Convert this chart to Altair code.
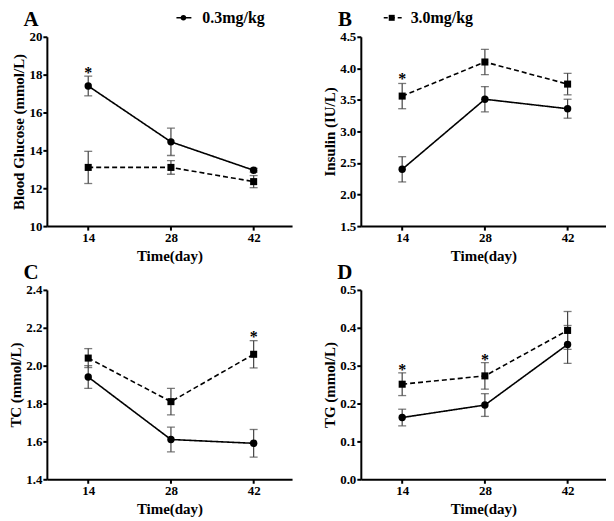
import altair as alt
import pandas as pd

days = [14, 28, 42]
doses = ["0.3mg/kg", "3.0mg/kg"]

# Panel A: Blood glucose (mmol/L)
glu_low = [17.4, 14.45, 12.95]
glu_low_sem = [0.52, 0.72, 0.10]
glu_high = [13.1, 13.1, 12.35]
glu_high_sem = [0.85, 0.36, 0.32]
glu_star_days = [14]
glu_star_y = [18.25]

# Panel B: Insulin (IU/L)
ins_low = [2.40, 3.51, 3.36]
ins_low_sem = [0.20, 0.20, 0.15]
ins_high = [3.56, 4.10, 3.75]
ins_high_sem = [0.20, 0.20, 0.17]
ins_star_days = [14]
ins_star_y = [3.87]

# Panel C: TC (mmol/L)
tc_low = [1.94, 1.61, 1.59]
tc_low_sem = [0.06, 0.065, 0.073]
tc_high = [2.04, 1.81, 2.06]
tc_high_sem = [0.05, 0.07, 0.072]
tc_star_days = [42]
tc_star_y = [2.165]

# Panel D: TG (mmol/L)
tg_low = [0.163, 0.196, 0.356]
tg_low_sem = [0.022, 0.03, 0.05]
tg_high = [0.251, 0.273, 0.393]
tg_high_sem = [0.03, 0.035, 0.05]
tg_star_days = [14, 28]
tg_star_y = [0.297, 0.322]

FONT = "Liberation Serif"
W, H = 246, 190


def panel(letter, ytitle, dom, ticks, fmt, lows, low_sem, highs, high_sem,
          star_days, star_y, legend_dose=None):
    rows = []
    for dose, vals, sems in ((doses[0], lows, low_sem), (doses[1], highs, high_sem)):
        for d, v, s in zip(days, vals, sems):
            rows.append(dict(day=d, dose=dose, mean=v, lo=v - s, hi=v + s))
    df = pd.DataFrame(rows)
    xs = alt.Scale(domain=[7, 48.5], nice=False, zero=False)
    ys = alt.Scale(domain=dom, nice=False, zero=False)
    x_axis = alt.Axis(values=days, title="Time(day)", format="d", labelOverlap=False)
    y_axis = alt.Axis(values=ticks, format=fmt, title=ytitle, labelOverlap=False)
    x = alt.X("day:Q", scale=xs, axis=x_axis)

    def Y(field):
        return alt.Y(field, scale=ys, axis=y_axis)

    base = alt.Chart(df)
    err = base.mark_rule(color="#444444", strokeWidth=1.2).encode(
        x=x, y=Y("lo:Q"), y2="hi:Q")
    cap_lo = base.mark_tick(orient="horizontal", size=8, thickness=1.3,
                            color="#444444").encode(x=x, y=Y("lo:Q"))
    cap_hi = base.mark_tick(orient="horizontal", size=8, thickness=1.3,
                            color="#444444").encode(x=x, y=Y("hi:Q"))
    line = base.mark_line(color="black", strokeWidth=1.6).encode(
        x=x, y=Y("mean:Q"),
        strokeDash=alt.StrokeDash("dose:N", scale=alt.Scale(domain=doses, range=[[1, 0], [5, 3]]),
                                  legend=None),
        detail="dose:N")
    pts = base.mark_point(filled=True, color="black", opacity=1).encode(
        x=x, y=Y("mean:Q"),
        shape=alt.Shape("dose:N", scale=alt.Scale(domain=doses, range=["circle", "square"]),
                        legend=None),
        size=alt.Size("dose:N", scale=alt.Scale(domain=doses, range=[55, 50]), legend=None))
    sdf = pd.DataFrame(dict(day=star_days, y=star_y))
    stars = alt.Chart(sdf).mark_text(text="*", font=FONT, fontSize=16, fontWeight="bold",
                                     baseline="middle", fill="black", color="black",
                                     dy=3).encode(
        x=x, y=Y("y:Q"))
    lab = alt.Chart(pd.DataFrame(dict(t=[letter]))).mark_text(
        font=FONT, fontSize=21, fontWeight="bold", fill="black", align="center",
        baseline="middle").encode(text="t:N", x=alt.value(-16), y=alt.value(-17))
    layers = [err, cap_lo, cap_hi, line, pts, stars, lab]
    if legend_dose is not None:
        ldf = pd.DataFrame(dict(dose=[legend_dose]))
        if legend_dose == doses[0]:
            lx1, lx2, sx, tx, dash, shp, sz = 130, 145, 137, 156, [1, 0], "circle", 30
        else:
            lx1, lx2, sx, tx, dash, shp, sz = 23, 42, 31, 50, [4, 3], "square", 36
        lg = alt.Chart(ldf)
        layers += [
            lg.mark_rule(color="black", strokeWidth=1.6, strokeDash=dash).encode(
                x=alt.value(lx1), x2=alt.value(lx2), y=alt.value(-19)),
            lg.mark_point(filled=True, color="black", opacity=1, shape=shp, size=sz).encode(
                x=alt.value(sx), y=alt.value(-19)),
            lg.mark_text(font=FONT, fontSize=16, fontWeight="bold", fill="black",
                         align="left", baseline="middle").encode(
                text="dose:N", x=alt.value(tx), y=alt.value(-19)),
        ]
    return alt.layer(*layers).properties(width=W, height=H)


pA = panel("A", "Blood Glucose (mmol/L)", [10, 20], [10, 12, 14, 16, 18, 20], "d",
           glu_low, glu_low_sem, glu_high, glu_high_sem, glu_star_days, glu_star_y, doses[0])
pB = panel("B", "Insulin (IU/L)", [1.5, 4.5], [1.5, 2.0, 2.5, 3.0, 3.5, 4.0, 4.5], ".1f",
           ins_low, ins_low_sem, ins_high, ins_high_sem, ins_star_days, ins_star_y, doses[1])
pC = panel("C", "TC (mmol/L)", [1.4, 2.4], [1.4, 1.6, 1.8, 2.0, 2.2, 2.4], ".1f",
           tc_low, tc_low_sem, tc_high, tc_high_sem, tc_star_days, tc_star_y)
pD = panel("D", "TG (mmol/L)", [0, 0.5], [0.0, 0.1, 0.2, 0.3, 0.4, 0.5], ".1f",
           tg_low, tg_low_sem, tg_high, tg_high_sem, tg_star_days, tg_star_y)

chart = alt.concat(pA, pB, pC, pD, columns=2, bounds="flush",
                   spacing={"row": 64, "column": 69}).properties(
    padding={"left": 0, "top": 0, "right": 0, "bottom": 0}
).configure_view(stroke=None).configure_axis(
    grid=False, domainColor="black", domainWidth=2, tickColor="black", tickWidth=2,
    tickSize=4, labelFont=FONT, labelFontWeight="bold", labelFontSize=13,
    labelColor="black", labelPadding=1, labelOverlap=False, titleFont=FONT,
    titleFontWeight="bold", titleFontSize=15, titleColor="black"
).configure_axisX(titlePadding=4).configure_axisY(titlePadding=2)

chart.save("out.html", embed_options={"renderer": "svg", "actions": False})
